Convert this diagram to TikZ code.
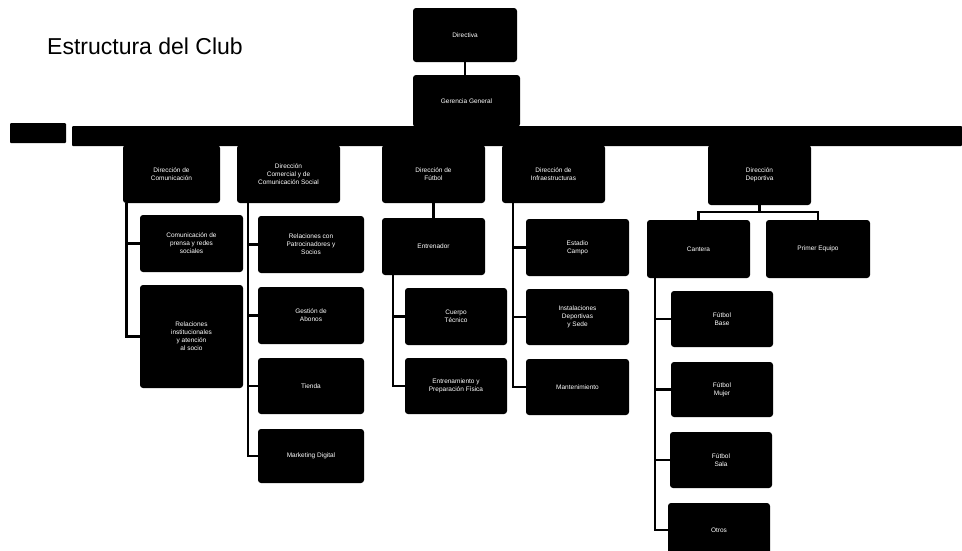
\documentclass[tikz,border=0pt]{standalone}
\usepackage{fontspec}
\setmainfont{Liberation Sans}
\usetikzlibrary{calc}
\tikzset{
  box/.style={fill=black, rounded corners=3pt, text=white, align=center, inner sep=1pt,
    font=\fontsize{6.5}{8}\selectfont},
  conn/.style={draw=black, line width=2.4pt},
  barstyle/.style={fill=black, rounded corners=1pt}
}
\begin{document}
\begin{tikzpicture}[x=1pt,y=-1pt]
\useasboundingbox (0,0) rectangle (962,550);
\fill[white] (0,0) rectangle (962,550);
% title
\node[anchor=west, inner sep=0, font=\fontsize{23}{26}\selectfont] (title) at (47,46) {Estructura del Club};
% top
\node[box, minimum width=104pt, minimum height=54pt] (dir) at (465,35) {Directiva};
\node[box, minimum width=107pt, minimum height=52pt] (ger) at (466.5,101) {Gerencia General};
\draw[conn] (dir.south) -- (dir.south |- ger.north);
% bars
\path[barstyle] (10,123) rectangle (66,143);
\path[barstyle] (72,126) rectangle (962,146);
% column 1
\node[box, minimum width=97pt, minimum height=58pt] (c1) at (171.5,174) {Dirección de\\Comunicación};
\node[box, minimum width=103pt, minimum height=57pt] (c1a) at (191.5,243.5) {Comunicación de\\prensa y redes\\sociales};
\node[box, minimum width=103pt, minimum height=103pt] (c1b) at (191.5,336.5) {Relaciones\\institucionales\\y atención\\al socio};
\draw[conn] ($(c1.south west)+(3.5,0)$) |- (c1a.west);
\draw[conn] ($(c1.south west)+(3.5,0)$) |- (c1b.west);
% column 2
\node[box, minimum width=103pt, minimum height=58pt] (c2) at (288.5,174) {Dirección\\Comercial y de\\Comunicación Social};
\node[box, minimum width=106pt, minimum height=57pt] (c2a) at (311,244.5) {Relaciones con\\Patrocinadores y\\Socios};
\node[box, minimum width=106pt, minimum height=57pt] (c2b) at (311,315.5) {Gestión de\\Abonos};
\node[box, minimum width=106pt, minimum height=56pt] (c2c) at (311,386) {Tienda};
\node[box, minimum width=106pt, minimum height=54pt] (c2d) at (311,456) {Marketing Digital};
\foreach \n in {c2a,c2b,c2c,c2d}
  \draw[conn] ($(c2.south west)+(11,0)$) |- (\n.west);
% column 3
\node[box, minimum width=103pt, minimum height=58pt] (c3) at (433.5,174) {Dirección de\\Fútbol};
\node[box, minimum width=103pt, minimum height=57pt] (c3a) at (433.5,246.5) {Entrenador};
\draw[conn] (c3.south) -- (c3a.north);
\node[box, minimum width=102pt, minimum height=57pt] (c3b) at (456,316.5) {Cuerpo\\Técnico};
\node[box, minimum width=102pt, minimum height=56pt] (c3c) at (456,386) {Entrenamiento y\\Preparación Física};
\foreach \n in {c3b,c3c}
  \draw[conn] ($(c3a.south west)+(11,0)$) |- (\n.west);
% column 4
\node[box, minimum width=103pt, minimum height=58pt] (c4) at (553.5,174) {Dirección de\\Infraestructuras};
\node[box, minimum width=103pt, minimum height=57pt] (c4a) at (577.5,247.5) {Estadio\\Campo};
\node[box, minimum width=103pt, minimum height=56pt] (c4b) at (577.5,317) {Instalaciones\\Deportivas\\y Sede};
\node[box, minimum width=103pt, minimum height=56pt] (c4c) at (577.5,387) {Mantenimiento};
\foreach \n in {c4a,c4b,c4c}
  \draw[conn] ($(c4.south west)+(11,0)$) |- (\n.west);
% column 5
\node[box, minimum width=103pt, minimum height=60pt] (c5) at (759.5,175) {Dirección\\Deportiva};
\node[box, minimum width=103pt, minimum height=58pt] (c5a) at (698.5,249) {Cantera};
\node[box, minimum width=104pt, minimum height=58pt] (c5b) at (818,249) {Primer Equipo};
\draw[conn] (c5.south) -- ++(0,7) -| (c5a.north);
\draw[conn] (c5.south) -- ++(0,7) -| (c5b.north);
\node[box, minimum width=102pt, minimum height=56pt] (c5a1) at (722,319) {Fútbol\\Base};
\node[box, minimum width=102pt, minimum height=55pt] (c5a2) at (722,389.5) {Fútbol\\Mujer};
\node[box, minimum width=102pt, minimum height=56pt] (c5a3) at (721,460) {Fútbol\\Sala};
\node[box, minimum width=102pt, minimum height=54pt] (c5a4) at (719,530) {Otros};
\foreach \n in {c5a1,c5a2,c5a3,c5a4}
  \draw[conn] ($(c5a.south west)+(8,0)$) |- (\n.west);
\end{tikzpicture}
\end{document}
